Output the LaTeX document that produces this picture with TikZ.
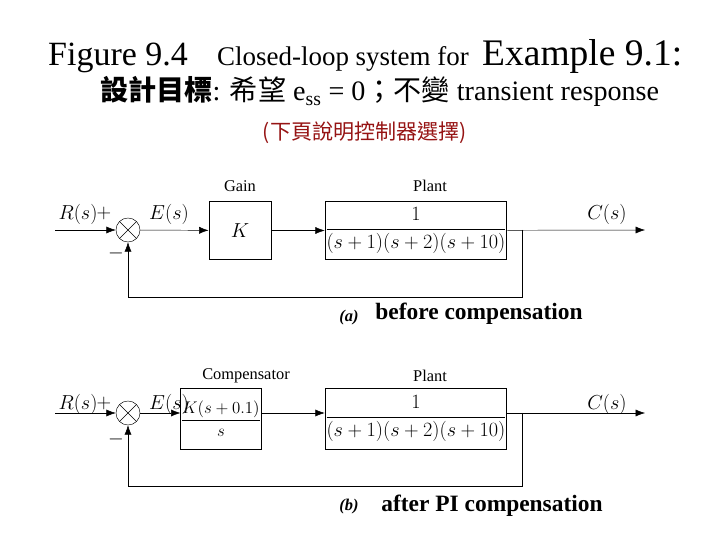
\documentclass[tikz,border=0pt]{standalone}
\usepackage{amsmath}
\usepackage{fontspec}
\setmainfont{Liberation Serif}
\newfontfamily\cjk{Noto Sans CJK TC}
\usetikzlibrary{arrows.meta}
\definecolor{notered}{RGB}{150,20,20}
\tikzset{
  blk/.style={draw,thick,minimum height=58*0.03cm,inner sep=0pt},
  sumj/.style={draw,circle,minimum size=24*0.03cm,inner sep=0pt,
    path picture={\draw (path picture bounding box.north west)--(path picture bounding box.south east)
      (path picture bounding box.north east)--(path picture bounding box.south west);}},
  sig/.style={-{Latex[length=8pt,width=6pt]}},
  lbl/.style={font=\fontsize{16}{18}\selectfont},
  ttl/.style={font=\fontsize{14}{16}\selectfont}
}
\begin{document}
\begin{tikzpicture}[x=0.03cm,y=-0.03cm]
  \useasboundingbox (0,0) rectangle (720,540);
  % heading
  \node[anchor=base west,font=\fontsize{29}{32}\selectfont,inner sep=0pt] (fig) at (48,66) {Figure 9.4};
  \node[anchor=base west,font=\fontsize{23}{26}\selectfont,inner sep=0pt] (cap) at (217,66) {Closed-loop system for};
  \node[anchor=base west,font=\fontsize{32}{36}\selectfont,inner sep=0pt] (ex) at (482,66) {Example 9.1:};
  \node[anchor=base west,font=\fontsize{24}{28}\selectfont,inner sep=0pt] (goal) at (100,101)
    {{\cjk\bfseries 設計目標}: {\cjk 希望} e\textsubscript{ss} = 0{\cjk ；不變} transient response};
  \node[font=\fontsize{18}{20}\selectfont\cjk,text=notered] (note) at (365,133) {(下頁說明控制器選擇)};

  % (a) before compensation
  \node[sumj] (sa) at (128,230) {};
  \node[blk,minimum width=62*0.03cm] (gain) at (240,230.5) {\fontsize{16}{18}\selectfont$K$};
  \node[blk,minimum width=176*0.03cm] (planta) at (416,230.5)
    {\fontsize{16}{18}\selectfont$\dfrac{1}{(s+1)(s+2)(s+10)}$};
  \coordinate (ina) at (55,230);
  \coordinate (outa) at (645,230);
  \coordinate (bra) at (522,230);
  \draw[sig] (ina) -- (sa);
  \draw[sig] (sa) -- (gain);
  \draw[sig] (gain) -- (planta);
  \draw[sig] (planta) -- (outa);
  \draw[sig] (bra) |- (128,297) -- (sa);
  \node[lbl] at (78,214) {$R(s)$};
  \node[lbl] at (104,213) {$+$};
  \node[lbl] at (116,253) {$-$};
  \node[lbl] at (169,214) {$E(s)$};
  \node[lbl] at (607,214) {$C(s)$};
  \node[ttl] at (240,186) {Gain};
  \node[ttl] at (430,186) {Plant};
  \node[font=\fontsize{14}{16}\selectfont\bfseries\itshape] at (349,318) {(a)};
  \node[font=\fontsize{20}{22}\selectfont\bfseries] at (479,314) {before compensation};

  % (b) after PI compensation
  \node[sumj] (sb) at (128,413) {};
  \node[blk,minimum height=61*0.03cm,minimum width=76*0.03cm] (comp) at (221,418.5)
    {\fontsize{15}{17}\selectfont$\dfrac{K(s+0.1)}{s}$};
  \node[blk,minimum height=61*0.03cm,minimum width=176*0.03cm] (plantb) at (416,418.5)
    {\fontsize{16}{18}\selectfont$\dfrac{1}{(s+1)(s+2)(s+10)}$};
  \coordinate (inb) at (55,413);
  \coordinate (outb) at (645,413);
  \coordinate (brb) at (522,413);
  \draw[sig] (inb) -- (sb);
  \draw[sig] (sb) -- (sb -| comp.west);
  \draw[sig] (comp.east |- sb) -- (sb -| plantb.west);
  \draw[sig] (plantb.east |- sb) -- (outb);
  \draw[sig] (brb) |- (128,486) -- (sb);
  \node[lbl] at (78,404) {$R(s)$};
  \node[lbl] at (104,403) {$+$};
  \node[lbl] at (116,439) {$-$};
  \node[lbl] at (169,404) {$E(s)$};
  \node[lbl] at (607,404) {$C(s)$};
  \node[ttl] at (246,376) {Compensator};
  \node[ttl] at (430,376) {Plant};
  \node[font=\fontsize{14}{16}\selectfont\bfseries\itshape] at (349,507) {(b)};
  \node[font=\fontsize{20}{22}\selectfont\bfseries] at (492,506) {after PI compensation};
\end{tikzpicture}
\end{document}
